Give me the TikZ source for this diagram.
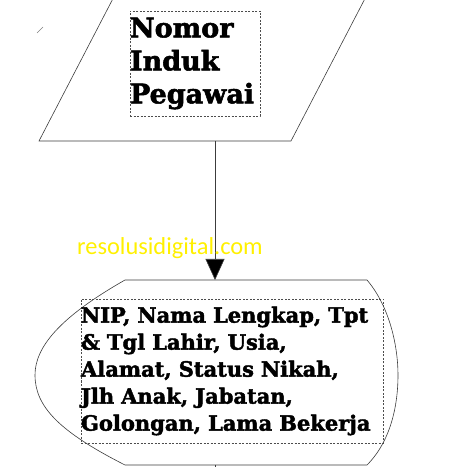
\documentclass[tikz,border=0pt]{standalone}
\usepackage{fontspec}
\setmainfont{DejaVu Serif}[BoldFeatures={FakeBold=2}]
\newfontfamily\wmfont{Carlito}
\usepackage{xcolor}
\usepackage{tikz}
\usetikzlibrary{arrows, arrows.meta}
\definecolor{wmyellow}{RGB}{255,240,0}
\definecolor{linegray}{RGB}{60,60,60}
\tikzset{
  textbox/.style={draw=black!70, dashed, dash pattern=on 2pt off 1.5pt, line width=0.5pt, inner sep=0pt, align=left, font=\bfseries},
  shapeline/.style={draw=linegray, line width=0.6pt}
}

\begin{document}
\begin{tikzpicture}[x=1pt,y=1pt]
%\draw[step=10,gray,very thin] (0,0) grid (467,467);
\useasboundingbox (0,0) rectangle (467,467);
\clip (0,0) rectangle (467,467);
\draw[shapeline] (119,480)--(39,326)--(291,326)--(371,480);
\draw[draw=black!50, line width=0.5pt] (37,434)--(43,440);
\draw[shapeline] (125,187)--(367,187)
  .. controls (390,160) and (398,120) .. (398,92)
  .. controls (398,60) and (390,25) .. (367,2)
  --(125,2)
  .. controls (60,35) and (35,60) .. (35,92)
  .. controls (35,120) and (60,150) .. (125,187);
\node[textbox, minimum width=130, minimum height=105, text width=130,
  font=\bfseries\fontsize{27}{33}\selectfont] (nip) at (195,403.5)
  {Nomor\\Induk\\Pegawai};
\node[textbox, minimum width=302, minimum height=144, text width=302,
  font=\bfseries\fontsize{21}{27}\selectfont] (data) at (232,96)
  {NIP, Nama Lengkap, Tpt\\\& Tgl Lahir, Usia,\\Alamat, Status Nikah,\\Jlh Anak, Jabatan,\\Golongan, Lama Bekerja};
\coordinate (pbot) at (215,326);
\coordinate (stop) at (215,187);
\coordinate (sbot) at (215,2);
\coordinate (out) at (215,-5);
\draw[shapeline, -{Triangle[length=21pt,width=19pt,fill=black]}] (pbot)--(stop);
\draw[shapeline] (sbot)--(out);
\node[anchor=base west, inner sep=0pt, text=wmyellow, font=\wmfont\fontsize{24.4}{24.4}\selectfont] (wm) at (77,212) {resolusidigital.com};
\end{tikzpicture}
\end{document}
